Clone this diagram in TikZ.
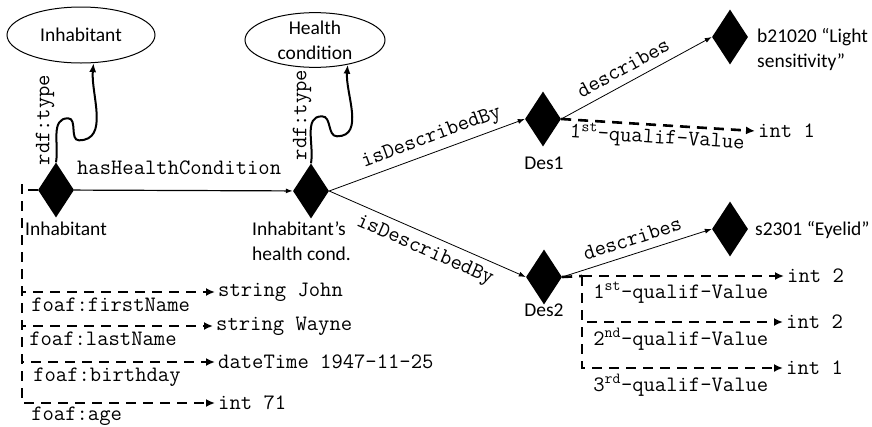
\documentclass[tikz,border=0pt]{standalone}
\usepackage{fontspec}
\setmainfont{Carlito}
\newcommand\bigsize{\fontsize{19.5}{25}\selectfont}
\newcommand\codefont{\fontsize{22}{25}\selectfont\ttfamily}
\usepackage{tikz}
\usetikzlibrary{shapes.geometric,arrows.meta,positioning}

\tikzset{
  res/.style={diamond, fill=black, draw=none, minimum width=36pt, minimum height=55pt, inner sep=0pt},
  cls/.style={ellipse, draw, line width=1pt, minimum width=148pt, minimum height=56pt, inner sep=0pt, align=center},
  lit/.style={anchor=west, inner sep=3pt, font=\codefont},
  prop/.style={font=\codefont, inner sep=0pt},
  txt/.style={inner sep=0pt, align=left},
  rel/.style={line width=0.8pt, -{Latex[length=7pt,width=5pt]}},
  qual/.style={line width=2.6pt, dash pattern=on 10pt off 7pt, -{Latex[length=9pt,width=8pt]}},
  wave/.style={line width=2pt, -{Latex[length=9pt,width=7pt]}}
}

\begin{document}
\begin{tikzpicture}[x=1pt,y=1pt,font=\bigsize]
    \useasboundingbox (0,0) rectangle (872,-426);

    % classes
    \node[cls] (inhcls) at (81,-35) {Inhabitant};
    \node[cls, minimum width=140pt, minimum height=54pt] (hccls) at (315,-40) {Health\\condition};

    % resources
    \node[res] (inh) at (56,-190) {};
    \node[res] (hc) at (311,-191) {};
    \node[res] (des1) at (543,-119) {};
    \node[res] (des2) at (544,-277) {};
    \node[res] (b21) at (730,-37) {};
    \node[res] (s23) at (730,-229) {};

    \node[txt] (inhlbl) at (66,-229) {Inhabitant};
    \node[txt, anchor=west] (hclbl) at (252,-241) {Inhabitant’s\\health cond.};
    \node[txt] (des1lbl) at (544,-163) {Des1};
    \node[txt] (des2lbl) at (544,-310) {Des2};
    \node[txt, anchor=west] (b21lbl) at (757,-50) {b21020 “Light\\sensitivity”};
    \node[txt, anchor=west] (s23lbl) at (755,-230) {s2301 “Eyelid”};

    % literals
    \node[lit] (john) at (215,-292) {string John};
    \node[lit] (wayne) at (213,-326) {string Wayne};
    \node[lit] (dtime) at (215,-362) {dateTime 1947-11-25};
    \node[lit] (age) at (215,-403) {int 71};
    \node[lit] (int1) at (755,-131) {int 1};
    \node[lit] (int2a) at (784,-276) {int 2};
    \node[lit] (int2b) at (783,-322) {int 2};
    \node[lit] (int1b) at (783,-368) {int 1};

    % rdf:type
    \draw[wave] (inh.north) to[out=80,in=180] ++(12,44) to[out=0,in=180] ++(11,-22) to[out=0,in=-95] (inhcls.-66);
    \draw[wave] (hc.north) to[out=80,in=180] ++(11,47) to[out=0,in=180] ++(15,-20) to[out=0,in=-95] (hccls.-37);
    \node[prop, rotate=90] (inhtype) at (45,-120) {rdf:type};
    \node[prop, rotate=90] (hctype) at (302,-115) {rdf:type};

    % object properties
    \draw[line width=1.2pt, -{Latex[length=7pt,width=5pt]}] (inh) -- (hc) node[prop, pos=0.48, above=15pt] {hasHealthCondition};
    \draw[rel] (hc.east) -- (des1.west) node[prop, sloped, pos=0.55, above=5pt] {isDescribedBy};
    \draw[rel] (hc.east) -- (des2.west) node[prop, sloped, pos=0.52, below=7pt] {isDescribedBy};
    \draw[rel] (des1.east) -- (b21.west) node[prop, sloped, pos=0.46, above=8pt] {describes};
    \draw[rel] (des2.east) -- (s23.west) node[prop, sloped, pos=0.5, above=8pt] {describes};

    % data properties
    \draw[qual] (des1.east) -- (int1.west) node[prop, sloped, pos=0.5, below=1pt] {1\textsuperscript{st}-qualif-Value};

    \coordinate (inhj) at (22,-184);
    \draw[line width=1.2pt] (inh.west) -- ++(-10,0);
    \draw[qual] (inhj) |- (john.west) node[prop, pos=0.5, anchor=north west, xshift=8pt, yshift=-5pt] {foaf:firstName};
    \draw[qual] (inhj) |- (wayne.west) node[prop, pos=0.5, anchor=north west, xshift=6pt, yshift=-5pt] {foaf:lastName};
    \draw[qual] (inhj) |- (dtime.west) node[prop, pos=0.5, anchor=north west, xshift=10pt, yshift=-5pt] {foaf:birthday};
    \draw[qual] (inhj) |- (age.west) node[prop, pos=0.5, anchor=north west, xshift=8pt, yshift=-3pt] {foaf:age};

    \coordinate (d2j) at (582,-276);
    \draw[qual, -] (des2.east) -- (d2j);
    \draw[qual] (d2j) -- (int2a.west) node[prop, pos=0, anchor=north west, xshift=10pt, yshift=-5pt] {1\textsuperscript{st}-qualif-Value};
    \draw[qual] (d2j) |- (int2b.west) node[prop, pos=0.5, anchor=north west, xshift=10pt, yshift=-5pt] {2\textsuperscript{nd}-qualif-Value};
    \draw[qual] (d2j) |- (int1b.west) node[prop, pos=0.5, anchor=north west, xshift=10pt, yshift=-5pt] {3\textsuperscript{rd}-qualif-Value};
\end{tikzpicture}
\end{document}
